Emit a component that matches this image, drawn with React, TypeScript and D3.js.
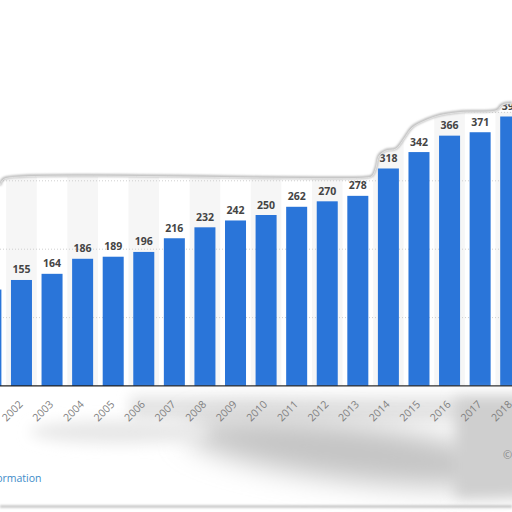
import React from "react";
import * as d3 from "d3";

const years = ["2001","2002","2003","2004","2005","2006","2007","2008","2009","2010","2011","2012","2013","2014","2015","2016","2017","2018"];
const values = [141,155,164,186,189,196,216,232,242,250,262,270,278,318,342,366,371,394];
const yTicks = [100, 200, 300, 400];

const W = 512, H = 512;

export default function App() {
  const x = d3.scaleBand<string>().domain(years).range([-24.4, 526.0]).paddingInner(0.313).paddingOuter(0.1565);
  const y = d3.scaleLinear().domain([0, 400]).range([386, 112.4]);
  const step = x.step();
  const bw = x.bandwidth();

  const sheetPts: [number, number][] = [
    [0, 186], [2, 181], [6, 178.5], [365, 178], [372, 176.5], [376, 168], [379, 156], [386, 151],
    [396, 149], [404, 139], [412, 128], [427, 120], [440, 115.5], [460, 112.5], [497, 110.5],
    [501, 106], [505, 104], [512, 103.5],
  ];
  const line = d3.line().curve(d3.curveCatmullRom.alpha(0.5));
  const edge = line(sheetPts) || "";
  const sheet = edge + `L512,0L0,0Z`;

  return (
    <svg width={W} height={H} style={{ position: "absolute", left: 0, top: 0, background: "#fff" }}
      fontFamily="'Open Sans', sans-serif">
      <defs>
        <filter id="blurHuge" filterUnits="userSpaceOnUse" x={-100} y={300} width={720} height={260}>
          <feGaussianBlur stdDeviation="14" />
        </filter>
        <filter id="blurMid" filterUnits="userSpaceOnUse" x={-100} y={300} width={720} height={260}>
          <feGaussianBlur stdDeviation="7" />
        </filter>
        <filter id="blurSm" filterUnits="userSpaceOnUse" x={-20} y={60} width={560} height={480}>
          <feGaussianBlur stdDeviation="1.3" />
        </filter>
      </defs>
      {/* alternating band backgrounds */}
      {years.map((yr, i) =>
        i % 2 === 1 ? (
          <rect key={"bg" + yr} x={(x(yr) as number) - (step - bw) / 2} y={112} width={step} height={386 - 112} fill="#f6f6f6" />
        ) : null
      )}
      {/* gridlines */}
      {yTicks.map((t) => (
        <line key={"g" + t} x1={0} x2={W} y1={y(t)} y2={y(t)} stroke="#cfcfcf" strokeDasharray="1,2" strokeWidth={1} />
      ))}
      {/* bars */}
      {years.map((yr, i) => (
        <rect key={"b" + yr} x={x(yr)} y={y(values[i])} width={bw} height={386 - y(values[i])} fill="#2a75d9" />
      ))}
      {/* value labels */}
      {years.map((yr, i) => (
        <text key={"l" + yr} x={(x(yr) as number) + bw / 2} y={y(values[i]) - 6.5} textAnchor="middle"
          fontSize={10.5} fontWeight={700} fill="#444">{values[i]}</text>
      ))}
      {/* baseline */}
      <line x1={0} x2={W} y1={385.8} y2={385.8} stroke="#222" strokeWidth={1.2} />
      {/* bottom gray blur */}
      <rect x={130} y={396} width={400} height={26} fill="#e4e4e4" filter="url(#blurMid)" />
      <ellipse cx={350} cy={452} rx={165} ry={28} fill="#c4c4c4" transform="rotate(7 350 452)" filter="url(#blurHuge)" />
      <rect x={455} y={398} width={70} height={100} fill="#cfcfcf" filter="url(#blurMid)" />
      <ellipse cx={120} cy={432} rx={90} ry={12} fill="#e8e8e8" filter="url(#blurMid)" />
      <line x1={0} x2={W} y1={506.5} y2={506.5} stroke="#b5b5b5" strokeWidth={2} filter="url(#blurSm)" />
      {/* year labels */}
      {years.map((yr) => {
        const cx = (x(yr) as number) + bw / 2 + 2;
        const cy = 405;
        return (
          <g key={"y" + yr} transform={`translate(${cx},${cy}) rotate(-45)`}>
            <text x={0} y={0} textAnchor="end" fontSize={10.5} fill="#808080">{yr}</text>
          </g>
        );
      })}
      <text x={41.5} y={482} textAnchor="end" fontSize={10.5} fill="#3d8bc9">Additional Information</text>
      <text x={503} y={459} fontSize={11} fill="#888">© Statista 2019</text>
      {/* white sheet covering the top */}
      <path d={sheet} fill="#fff" />
      <path d={edge} fill="none" stroke="#b0b0b0" strokeWidth={2.5} filter="url(#blurSm)" transform="translate(0,-0.8)" />
      <path d={edge} fill="none" stroke="#e2e2e2" strokeWidth={1} />
    </svg>
  );
}
